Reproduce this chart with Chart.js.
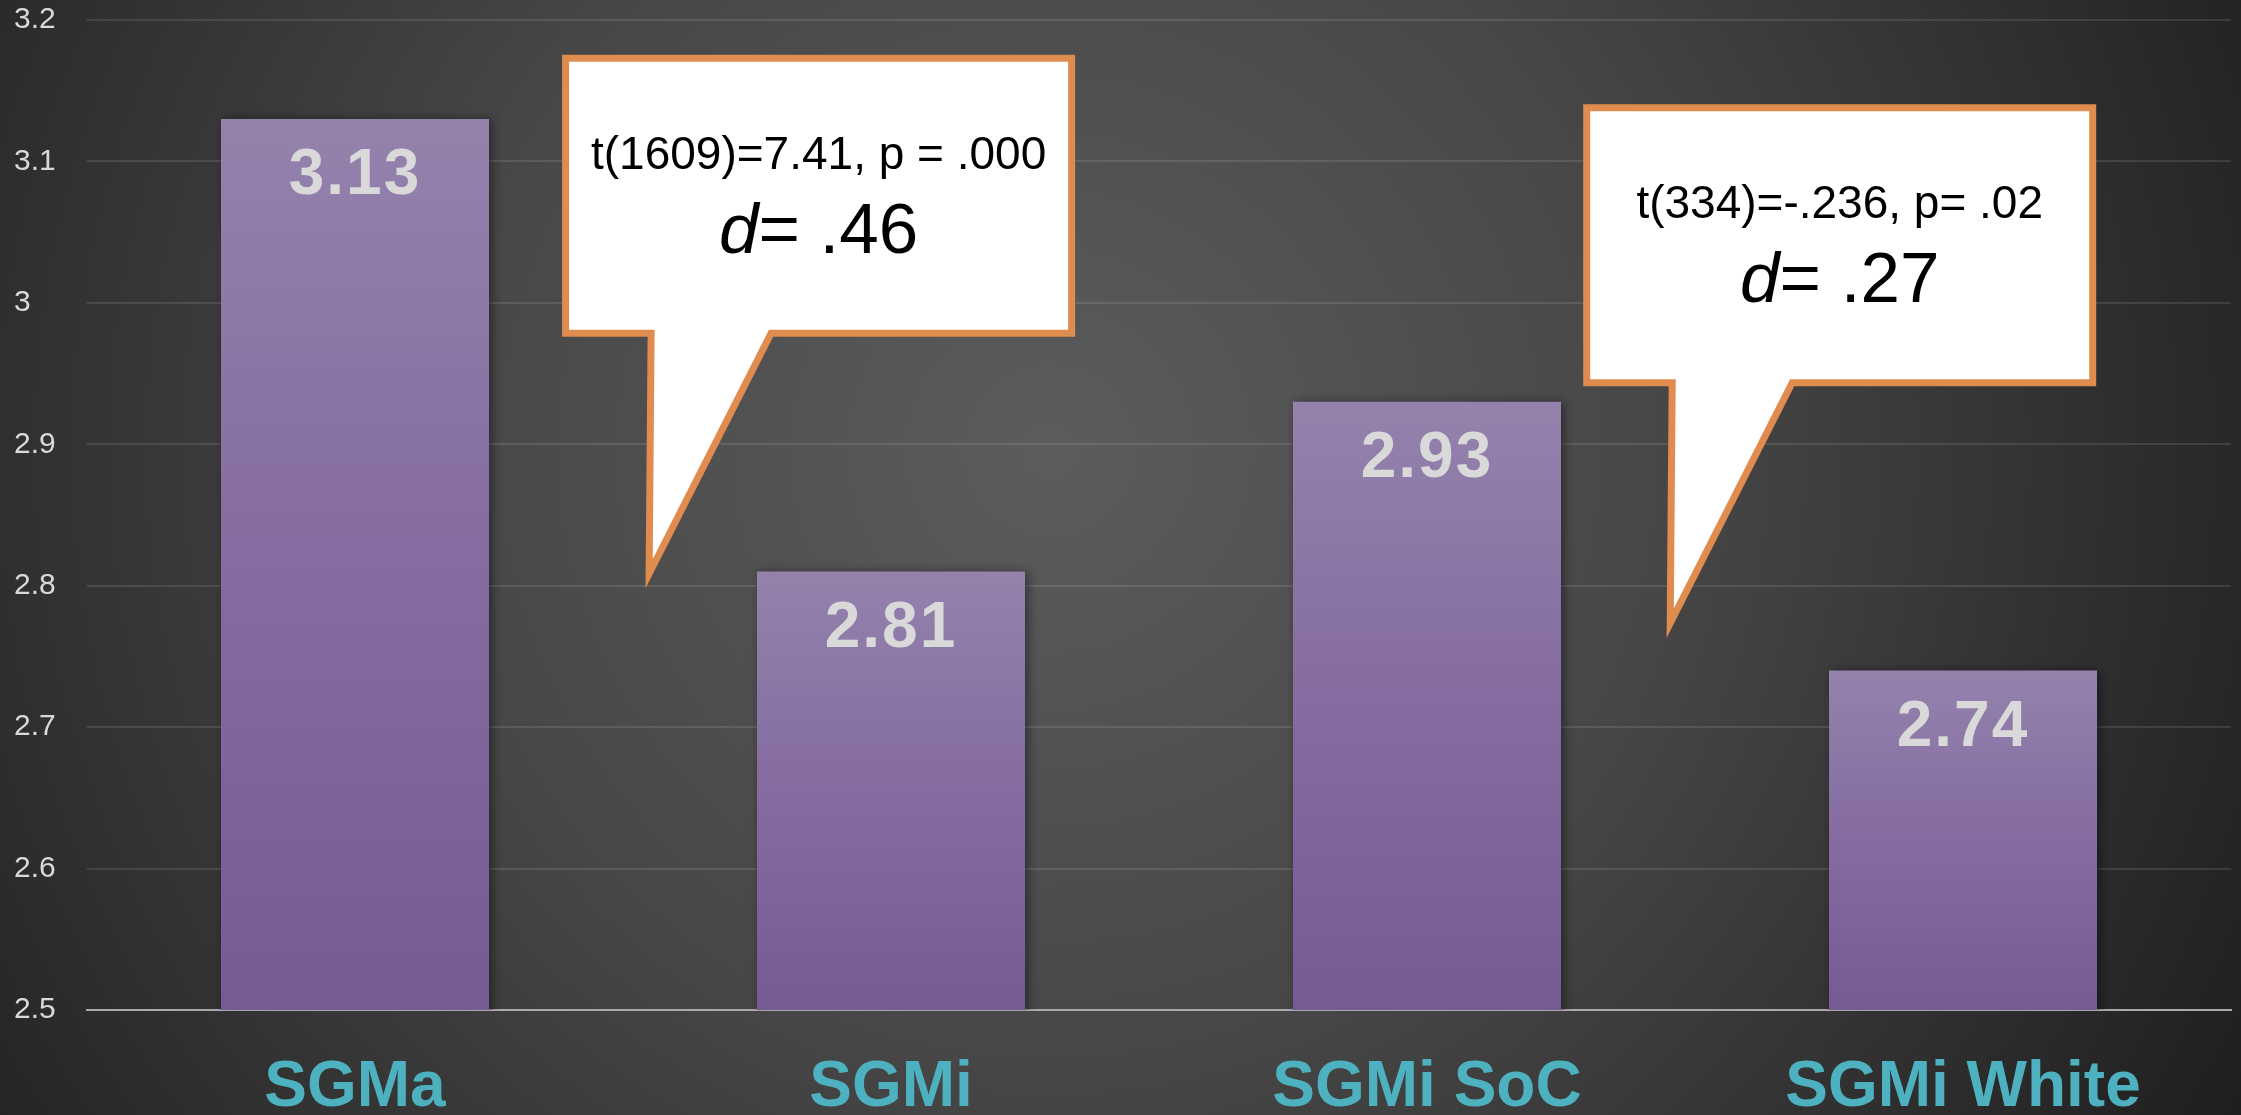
<!DOCTYPE html>
<html lang="en">
<head>
    <meta charset="UTF-8">
    <title>SGMa vs SGMi means</title>
    <script src="https://cdn.jsdelivr.net/npm/chart.js@4.4.0/dist/chart.umd.min.js"></script>
    <style>
        html, body {
            margin: 0;
            padding: 0;
            background: #2a2a2a;
            overflow: hidden;
        }
        canvas {
            display: block;
        }
    </style>
</head>
<body>

<canvas id="chartCanvas" width="2241" height="1115"></canvas>

<script>
    const categories = ['SGMa', 'SGMi', 'SGMi SoC', 'SGMi White'];
    const means = [3.13, 2.81, 2.93, 2.74];
    const yMin = 2.5;
    const yMax = 3.2;
    const yStep = 0.1;
    const calloutStats = ['t(1609)=7.41, p = .000', 't(334)=-.236, p= .02'];
    const calloutEffects = ['.46', '.27'];

    const FONT = "'Liberation Sans', Arial, sans-serif";

    // dark radial backdrop
    const backdrop = {
        id: 'backdrop',
        beforeDraw(chart) {
            const c = chart.ctx;
            const g = c.createRadialGradient(1050, 450, 0, 1050, 450, 1350);
            g.addColorStop(0, '#5c5c5c');
            g.addColorStop(0.45, '#474747');
            g.addColorStop(1, '#1f1f1f');
            c.save();
            c.fillStyle = g;
            c.fillRect(0, 0, chart.width, chart.height);
            c.restore();
        }
    };

    // soft shadow behind the bars
    const barShadow = {
        id: 'barShadow',
        beforeDatasetsDraw(chart) {
            const c = chart.ctx;
            c.save();
            c.shadowColor = 'rgba(0,0,0,0.45)';
            c.shadowBlur = 10;
            c.shadowOffsetX = 3;
        },
        afterDatasetsDraw(chart) {
            chart.ctx.restore();
        }
    };

    // value printed inside the top of each bar
    const valueLabels = {
        id: 'valueLabels',
        afterDatasetsDraw(chart) {
            const c = chart.ctx;
            const meta = chart.getDatasetMeta(0);
            c.save();
            c.font = 'bold 64px ' + FONT;
            c.letterSpacing = '2px';
            c.fillStyle = '#d9d9d9';
            c.textAlign = 'center';
            c.textBaseline = 'alphabetic';
            meta.data.forEach((bar, i) => {
                c.fillText(means[i].toFixed(2), bar.x, bar.y + 75);
            });
            c.restore();
        }
    };

    // speech-bubble callouts with t-test results
    const callouts = {
        id: 'callouts',
        afterDraw(chart, args, opts) {
            const c = chart.ctx;
            const xs = chart.scales.x, ys = chart.scales.y;
            opts.anchors.forEach((a, i) => {
                const i0 = Math.floor(a.x);
                const p0 = xs.getPixelForValue(i0);
                const p1 = xs.getPixelForValue(i0 + 1);
                const tx = p0 + (a.x - i0) * (p1 - p0);
                const ty = ys.getPixelForValue(a.y);

                const lw = 7, h = lw / 2;
                const left = tx - 85, right = tx + 428;
                const bottom = ty - 249, top = bottom - 282;
                const L = left + h, R = right - h, T = top + h, B = bottom - h;

                c.save();
                c.beginPath();
                c.moveTo(L, T);
                c.lineTo(R, T);
                c.lineTo(R, B);
                c.lineTo(tx + 124, B);
                c.lineTo(tx + 2, ty - 12);
                c.lineTo(tx + 4, B);
                c.lineTo(L, B);
                c.closePath();
                c.fillStyle = '#ffffff';
                c.fill();
                c.lineWidth = lw;
                c.lineJoin = 'miter';
                c.strokeStyle = '#e08c4e';
                c.stroke();

                const cx = (left + right) / 2;
                c.fillStyle = '#000000';
                c.textBaseline = 'alphabetic';
                c.textAlign = 'center';
                c.font = '46px ' + FONT;
                c.fillText(calloutStats[i], cx, top + 114);

                const italic = 'italic 71px ' + FONT;
                const plain = '71px ' + FONT;
                const rest = '= ' + calloutEffects[i];
                c.font = italic;
                const wd = c.measureText('d').width;
                c.font = plain;
                const wr = c.measureText(rest).width;
                const sx = cx - (wd + wr) / 2;
                c.textAlign = 'left';
                c.font = italic;
                c.fillText('d', sx, top + 198);
                c.font = plain;
                c.fillText(rest, sx + wd, top + 198);
                c.restore();
            });
        }
    };

    function barGradient(context) {
        const chart = context.chart;
        const ys = chart.scales.y;
        if (!chart.chartArea || !ys) return '#8670a0';
        const v = means[context.dataIndex];
        const yTop = ys.getPixelForValue(v);
        const yBot = ys.getPixelForValue(yMin);
        const g = chart.ctx.createLinearGradient(0, yTop, 0, yBot);
        g.addColorStop(0, '#9482ac');
        g.addColorStop(0.5, '#846ba1');
        g.addColorStop(1, '#755b94');
        return g;
    }

    const options = {
        type: 'bar',
        data: {
            labels: categories,
            datasets: [{
                label: 'mean',
                data: means,
                backgroundColor: barGradient,
                borderWidth: 0,
                categoryPercentage: 1.0,
                barPercentage: 0.5
            }]
        },
        options: {
            responsive: false,
            animation: false,
            layout: {
                padding: { left: 14, right: 10, top: 20, bottom: 0 }
            },
            plugins: {
                legend: { display: false },
                tooltip: { enabled: false },
                callouts: {
                    anchors: [{ x: 0.545, y: 2.80 }, { x: 2.45, y: 2.765 }]
                }
            },
            scales: {
                x: {
                    grid: { display: false, drawTicks: false },
                    border: { display: true, color: '#a9a9a9', width: 2 },
                    ticks: {
                        color: '#4eb1bf',
                        padding: 40,
                        font: { size: 64, weight: 'bold', family: FONT, lineHeight: 1.2 }
                    },
                    afterFit(scale) { scale.height = 105; }
                },
                y: {
                    min: yMin,
                    max: yMax,
                    grid: {
                        color: 'rgba(255,255,255,0.11)',
                        lineWidth: 2,
                        drawTicks: false
                    },
                    border: { display: false },
                    ticks: {
                        stepSize: yStep,
                        color: '#d9d9d9',
                        padding: 0,
                        crossAlign: 'far',
                        font: { size: 30, family: FONT },
                        callback: function(value) {
                            return String(+value.toFixed(1));
                        }
                    },
                    afterFit(scale) { scale.width = 73; }
                }
            }
        },
        plugins: [backdrop, barShadow, valueLabels, callouts]
    };

    const ctx = document.getElementById('chartCanvas').getContext('2d');
    const chart = new Chart(ctx, options);
</script>

</body>
</html>
